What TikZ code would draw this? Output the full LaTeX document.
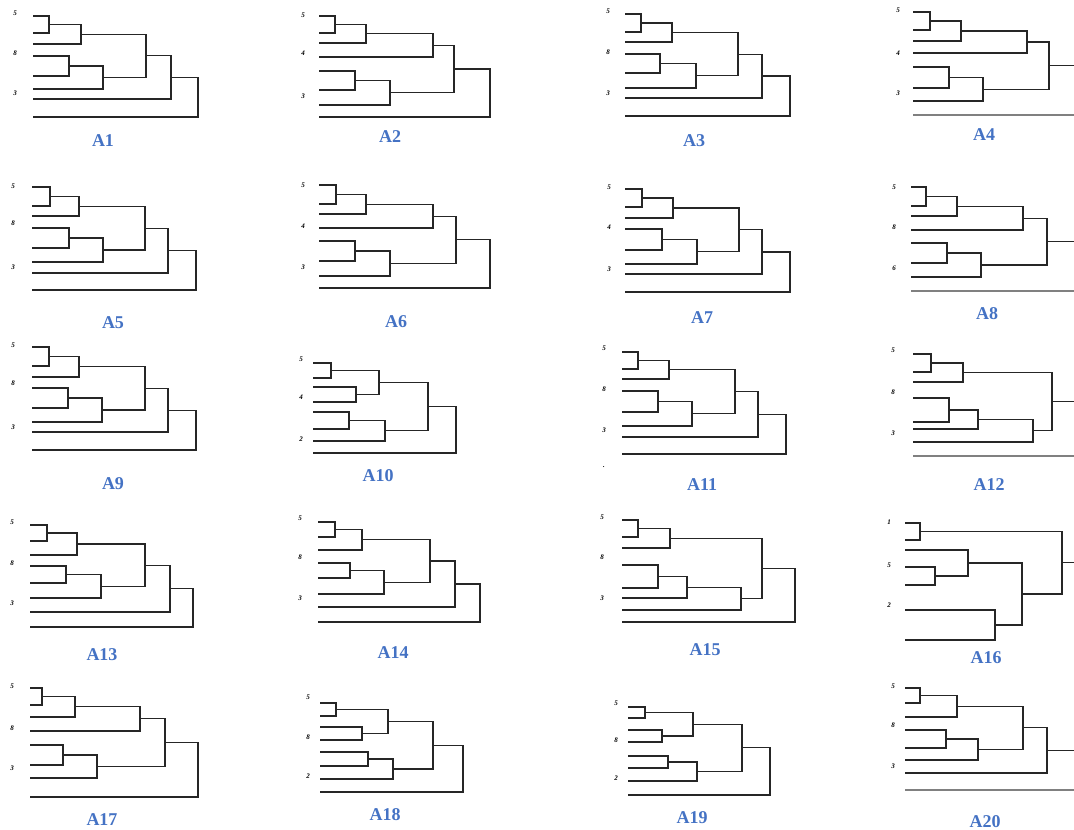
\documentclass[tikz,border=0pt]{standalone}
\usepackage{fontspec}
\setmainfont{Liberation Serif}
\usetikzlibrary{calc}
\definecolor{titleblue}{RGB}{68,114,196}
\tikzset{
  dline/.style={draw=black!85, line width=1.2pt},
  wideline/.style={draw=black!50, line width=2pt},
  ptitle/.style={text=titleblue, font=\fontsize{18}{18}\selectfont\bfseries, inner sep=0pt},
  plabel/.style={font=\fontsize{7}{7}\selectfont\bfseries\itshape, inner sep=0pt},
}
% leaf start points of one dendrogram: prefix, x, list of y
\newcommand\dleaves[3]{\foreach \yy [count=\i] in {#3} {\coordinate (#1l\i) at (#2,\yy);}}
% join two branches at abscissa #4, the new branch point is #1
\newcommand\dmerge[4]{%
  \coordinate (mx) at (#4,0);
  \draw[dline] (#2) -- (#2 -| mx) -- (#3 -| mx) -- (#3);
  \coordinate (#1) at ($(#2 -| mx)!0.5!(#3 -| mx)$);
}
% ((1,2),3) + ((4,5),6), then 7
\newcommand\treeA[7]{%
  \dmerge{#1a}{#1l1}{#1l2}{#2}\dmerge{#1b}{#1a}{#1l3}{#3}
  \dmerge{#1c}{#1l4}{#1l5}{#4}\dmerge{#1d}{#1c}{#1l6}{#5}
  \dmerge{#1e}{#1b}{#1d}{#6}\dmerge{#1f}{#1e}{#1l7}{#7}}
% (((1,2),3),4) + ((5,6),7)
\newcommand\treeB[7]{%
  \dmerge{#1a}{#1l1}{#1l2}{#2}\dmerge{#1b}{#1a}{#1l3}{#3}
  \dmerge{#1c}{#1b}{#1l4}{#4}\dmerge{#1d}{#1l5}{#1l6}{#5}
  \dmerge{#1e}{#1d}{#1l7}{#6}\dmerge{#1f}{#1c}{#1e}{#7}}
% ((1,2),(3,4)) + ((5,6),7)
\newcommand\treeC[7]{%
  \dmerge{#1a}{#1l1}{#1l2}{#2}\dmerge{#1b}{#1l3}{#1l4}{#3}
  \dmerge{#1c}{#1a}{#1b}{#4}\dmerge{#1d}{#1l5}{#1l6}{#5}
  \dmerge{#1e}{#1d}{#1l7}{#6}\dmerge{#1f}{#1c}{#1e}{#7}}
% ((1,2),3) + (((4,5),6),7)
\newcommand\treeD[7]{%
  \dmerge{#1a}{#1l1}{#1l2}{#2}\dmerge{#1b}{#1a}{#1l3}{#3}
  \dmerge{#1c}{#1l4}{#1l5}{#4}\dmerge{#1d}{#1c}{#1l6}{#5}
  \dmerge{#1e}{#1d}{#1l7}{#6}\dmerge{#1f}{#1b}{#1e}{#7}}
% closing join with leaf 8
\newcommand\closetree[2]{\dmerge{#1g}{#1f}{#1l8}{#2}}
% branches running on past the right border
\newcommand\opentree[1]{%
  \draw[dline] (#1f) -- (#1f -| edge);
  \draw[wideline] (#1l8) -- (#1l8 -| edge);}
% three side labels
\newcommand\sidelabels[8]{%
  \node[plabel] (#1s1) at (#2,#3) {#4};
  \node[plabel] (#1s2) at (#2,#5) {#6};
  \node[plabel] (#1s3) at (#2,#7) {#8};}

\begin{document}
\begin{tikzpicture}[x=1pt,y=-1pt]
\useasboundingbox (0,0) rectangle (1074,830);
\fill[white] (0,0) rectangle (1074,830);
\coordinate (edge) at (1074,0);

% ---- row 1
\dleaves{A1}{33}{16,33,44,56,76,89,99,117}
\treeA{A1}{49}{81}{69}{103}{146}{171}\closetree{A1}{198}
\sidelabels{A1}{15}{13}{5}{53}{8}{93}{3}
\node[ptitle] (tA1) at (103,141) {A1};

\dleaves{A2}{319}{16,33,43,57,71,90,105,117}
\treeB{A2}{335}{366}{433}{355}{390}{454}\closetree{A2}{490}
\sidelabels{A2}{303}{15}{5}{53}{4}{96}{3}
\node[ptitle] (tA2) at (390,137) {A2};

\dleaves{A3}{625}{14,32,42,54,73,88,98,116}
\treeA{A3}{641}{672}{660}{696}{738}{762}\closetree{A3}{790}
\sidelabels{A3}{608}{11}{5}{52}{8}{93}{3}
\node[ptitle] (tA3) at (694,141) {A3};

\dleaves{A4}{913}{12,30,41,53,67,88,101,115}
\treeB{A4}{930}{961}{1027}{949}{983}{1049}\opentree{A4}
\sidelabels{A4}{898}{10}{5}{53}{4}{93}{3}
\node[ptitle] (tA4) at (984,135) {A4};

% ---- row 2
\dleaves{A5}{32}{187,206,216,228,248,262,273,290}
\treeA{A5}{50}{79}{69}{103}{145}{168}\closetree{A5}{196}
\sidelabels{A5}{13}{186}{5}{223}{8}{267}{3}
\node[ptitle] (tA5) at (113,323) {A5};

\dleaves{A6}{319}{185,204,214,228,241,261,276,288}
\treeB{A6}{336}{366}{433}{355}{390}{456}\closetree{A6}{490}
\sidelabels{A6}{303}{185}{5}{226}{4}{267}{3}
\node[ptitle] (tA6) at (396,322) {A6};

\dleaves{A7}{625}{189,207,218,229,250,264,274,292}
\treeA{A7}{642}{673}{662}{697}{739}{762}\closetree{A7}{790}
\sidelabels{A7}{609}{187}{5}{227}{4}{269}{3}
\node[ptitle] (tA7) at (702,318) {A7};

\dleaves{A8}{911}{187,206,216,230,243,263,277,291}
\treeB{A8}{926}{957}{1023}{947}{981}{1047}\opentree{A8}
\sidelabels{A8}{894}{187}{5}{227}{8}{268}{6}
\node[ptitle] (tA8) at (987,314) {A8};

% ---- row 3
\dleaves{A9}{32}{347,366,377,388,408,422,432,450}
\treeA{A9}{49}{79}{68}{102}{145}{168}\closetree{A9}{196}
\sidelabels{A9}{13}{345}{5}{383}{8}{427}{3}
\node[ptitle] (tA9) at (113,484) {A9};

\dleaves{A10}{313}{363,378,387,402,412,429,441,453}
\treeC{A10}{331}{356}{379}{349}{385}{428}\closetree{A10}{456}
\sidelabels{A10}{301}{359}{5}{397}{4}{439}{2}
\node[ptitle] (tA10) at (378,476) {A10};

\dleaves{A11}{622}{352,369,379,391,412,426,437,454}
\treeA{A11}{638}{669}{658}{692}{735}{758}\closetree{A11}{786}
\sidelabels{A11}{604}{348}{5}{389}{8}{430}{3}
\node[plabel] (A11s4) at (604,467) {.};
\node[ptitle] (tA11) at (702,485) {A11};

\dleaves{A12}{913}{354,372,382,398,422,429,442,456}
\treeD{A12}{931}{963}{949}{978}{1033}{1052}\opentree{A12}
\sidelabels{A12}{893}{350}{5}{392}{8}{433}{3}
\node[ptitle] (tA12) at (989,485) {A12};

% ---- row 4
\dleaves{A13}{30}{525,541,555,566,583,598,612,627}
\treeA{A13}{47}{77}{66}{101}{145}{170}\closetree{A13}{193}
\sidelabels{A13}{12}{522}{5}{563}{8}{603}{3}
\node[ptitle] (tA13) at (102,655) {A13};

\dleaves{A14}{318}{522,537,550,563,578,594,607,622}
\treeA{A14}{335}{362}{350}{384}{430}{455}\closetree{A14}{480}
\sidelabels{A14}{300}{518}{5}{557}{8}{598}{3}
\node[ptitle] (tA14) at (393,653) {A14};

\dleaves{A15}{622}{520,537,548,565,588,598,610,622}
\treeD{A15}{638}{670}{658}{687}{741}{762}\closetree{A15}{795}
\sidelabels{A15}{602}{517}{5}{557}{8}{598}{3}
\node[ptitle] (tA15) at (705,650) {A15};

\dleaves{A16}{905}{523,540,550,567,585,610,640}
\dmerge{A16a}{A16l1}{A16l2}{920}
\dmerge{A16b}{A16l4}{A16l5}{935}
\dmerge{A16c}{A16l3}{A16b}{968}
\dmerge{A16d}{A16l6}{A16l7}{995}
\dmerge{A16e}{A16c}{A16d}{1022}
\dmerge{A16f}{A16a}{A16e}{1062}
\draw[dline] (A16f) -- (A16f -| edge);
\sidelabels{A16}{889}{522}{1}{565}{5}{605}{2}
\node[ptitle] (tA16) at (986,658) {A16};

% ---- row 5
\dleaves{A17}{30}{688,705,717,731,745,765,778,797}
\treeB{A17}{42}{75}{140}{63}{97}{165}\closetree{A17}{198}
\sidelabels{A17}{12}{686}{5}{728}{8}{768}{3}
\node[ptitle] (tA17) at (102,820) {A17};

\dleaves{A18}{320}{703,716,727,740,752,766,779,792}
\treeC{A18}{336}{362}{388}{368}{393}{433}\closetree{A18}{463}
\sidelabels{A18}{308}{697}{5}{737}{8}{776}{2}
\node[ptitle] (tA18) at (385,815) {A18};

\dleaves{A19}{628}{707,718,730,742,756,768,781,795}
\treeC{A19}{645}{662}{693}{668}{697}{742}\closetree{A19}{770}
\sidelabels{A19}{616}{703}{5}{740}{8}{778}{2}
\node[ptitle] (tA19) at (692,818) {A19};

\dleaves{A20}{905}{688,703,717,730,748,760,773,790}
\treeA{A20}{920}{957}{946}{978}{1023}{1047}\opentree{A20}
\sidelabels{A20}{893}{686}{5}{725}{8}{766}{3}
\node[ptitle] (tA20) at (985,822) {A20};
\end{tikzpicture}
\end{document}
